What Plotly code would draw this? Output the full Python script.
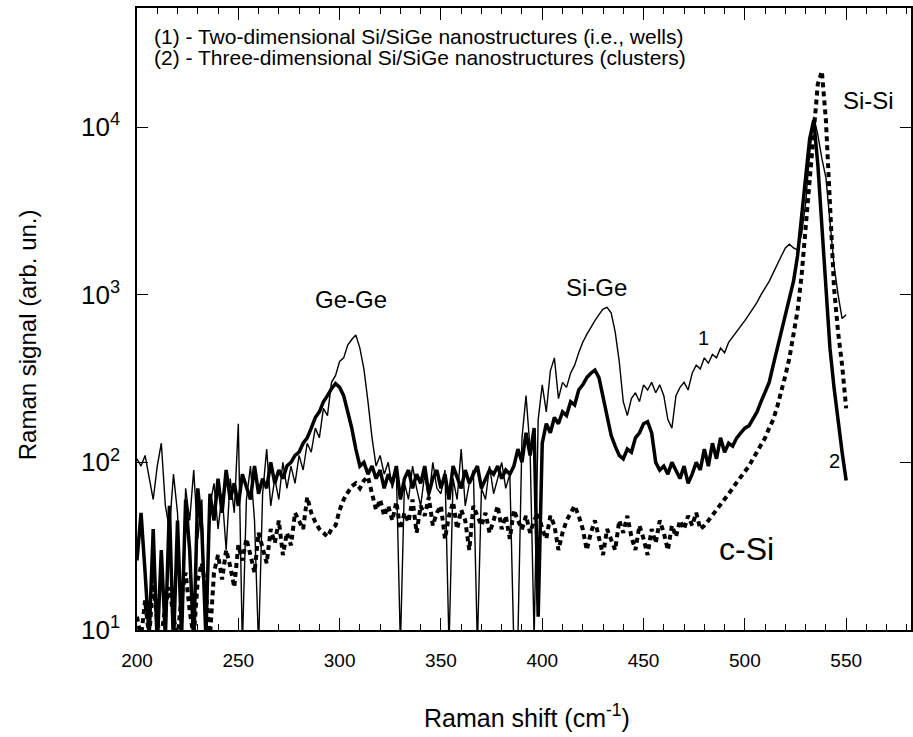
import plotly.graph_objects as go

# Raman shift grid (cm^-1), 2 cm^-1 step
shift = list(range(200, 551, 2))

# (1) two-dimensional Si/SiGe nanostructures (wells) - thin line
wells = [
    105, 95, 110, 80, 60, 95, 130, 55, 40, 85,
    50, 12, 70, 45, 90, 35, 60, 8, 55, 75,
    40, 65, 30, 80, 50, 170, 8, 60, 95, 45,
    8, 65, 120, 55, 80, 60, 100, 70, 95, 75,
    110, 90, 130, 115, 160, 140, 210, 190, 300, 330,
    400, 420, 500, 540, 575, 480, 360, 230, 140, 95,
    110, 85, 100, 70, 90, 8, 75, 60, 95, 70,
    55, 85, 60, 100, 70, 65, 90, 8, 80, 60,
    120, 55, 75, 90, 8, 70, 60, 95, 65, 80,
    100, 70, 85, 8, 9, 140, 250, 120, 9, 180,
    290, 200, 350, 420, 240, 300, 280, 340, 380, 450,
    520, 580, 640, 700, 760, 820, 840, 780, 600, 400,
    230, 190, 240, 260, 230, 290, 270, 300, 260, 290,
    250, 180, 160, 250, 280, 300, 270, 340, 380, 360,
    420, 390, 440, 420, 480, 450, 520, 560, 600, 640,
    700, 760, 820, 900, 1000, 1100, 1200, 1350, 1500, 1700,
    1900, 2000, 1900, 1850, 2300, 3500, 7000, 11500, 9000, 6500,
    5000, 2600, 1500, 1000, 720, 760,
]

# (2) three-dimensional Si/SiGe nanostructures (clusters) - bold line
clusters = [
    26, 50, 22, 9, 40, 8, 30, 9, 55, 8,
    45, 9, 60, 30, 8, 70, 40, 9, 65, 45,
    80, 50, 90, 60, 75, 55, 85, 70, 60, 95,
    65, 80, 70, 100, 75, 90, 80, 95, 100, 110,
    115, 130, 140, 160, 185, 200, 230, 250, 275, 295,
    280, 250, 200, 160, 120, 95, 100, 85, 95, 80,
    90, 70, 85, 75, 95, 60, 80, 90, 70, 85,
    75, 95, 65, 80, 90, 70, 85, 60, 95, 80,
    70, 90, 75, 85, 95, 70, 80, 90, 85, 95,
    80, 90, 85, 95, 120, 100, 150, 110, 160, 12,
    130, 170, 150, 185, 170, 200, 190, 230, 220, 270,
    290, 320, 340, 355, 320, 250, 190, 145, 125, 110,
    105, 120, 115, 140, 150, 170, 175, 150, 100, 90,
    95, 85, 100, 90, 80, 95, 75, 85, 100, 90,
    120, 95, 130, 105, 140, 115, 130, 125, 140, 150,
    160, 165, 180, 200, 230, 260, 300, 380, 480, 600,
    780, 950, 1200, 1700, 2800, 5000, 8500, 11000, 6000, 2500,
    1000, 480, 280, 170, 115, 78,
]

# bulk crystalline silicon reference - dashed line
c_si = [
    12, 9, 15, 9, 20, 11, 9, 14, 18, 12,
    9, 16, 22, 13, 9, 20, 25, 17, 9, 22,
    28, 20, 30, 24, 18, 32, 26, 35, 28, 22,
    38, 30, 25, 40, 33, 45, 28, 38, 32, 50,
    45, 40, 62, 50, 44, 40, 38, 36, 40, 42,
    52, 60, 66, 72, 75, 70, 78, 82, 65, 52,
    60, 48, 55, 45, 58, 40, 50, 44, 60, 38,
    55, 48, 62, 42, 50, 55, 35, 48, 58, 40,
    52, 45, 30, 55, 48, 42, 50, 38, 45, 55,
    40, 48, 35, 52, 45, 40, 48, 38, 45, 50,
    40, 35, 48, 42, 30, 38, 45, 50, 55, 48,
    40, 30, 38, 45, 35, 28, 40, 34, 30, 45,
    38, 48, 36, 30, 42, 35, 28, 40, 33, 45,
    38, 30, 42, 36, 45, 40, 48, 42, 50,
    40, 42, 45, 48, 52, 56, 60, 65, 70, 76,
    82, 88, 95, 105, 115, 128, 140, 160, 180, 215,
    260, 330, 420, 560, 800, 1300, 2500, 5000, 10000, 18000,
    21500, 11000, 3500, 1100, 600, 380, 210,
]

x_tick_vals = [200, 250, 300, 350, 400, 450, 500, 550]
x_tick_text = ["200", "250", "300", "350", "400", "450", "500", "550"]
y_tick_vals = [10, 100, 1000, 10000]
y_tick_text = ["10<sup>1</sup>", "10<sup>2</sup>", "10<sup>3</sup>", "10<sup>4</sup>"]

FONT = "Liberation Sans, Arial, sans-serif"

# plot box in pixels: left 137, right 913, top 8, bottom 630
L, R, T, B = 137, 913, 8, 630

fig = go.Figure()
fig.add_trace(go.Scatter(x=shift, y=c_si, mode="lines",
                         line=dict(color="black", width=4, dash="5px,4px")))
fig.add_trace(go.Scatter(x=shift, y=clusters, mode="lines",
                         line=dict(color="black", width=3.5)))
fig.add_trace(go.Scatter(x=shift, y=wells, mode="lines",
                         line=dict(color="black", width=1.4)))

fig.update_layout(
    width=913, height=737,
    margin=dict(l=L, r=913 - R, t=T, b=737 - B),
    plot_bgcolor="white", paper_bgcolor="white",
    showlegend=False,
    font=dict(family=FONT, color="black", size=18),
)

fig.update_xaxes(
    range=[200, 582], showgrid=False, zeroline=False,
    showline=True, linecolor="black", linewidth=1.5, mirror="ticks",
    ticks="inside", ticklen=12, tickwidth=1.3, tickcolor="black",
    tickvals=x_tick_vals, ticktext=x_tick_text,
    tickfont=dict(size=19, family=FONT), ticklabelstandoff=12,
    minor=dict(ticks="inside", ticklen=6, dtick=10, tick0=200,
               tickcolor="black", tickwidth=1),
)
fig.update_yaxes(
    type="log", range=[1, 4.71], showgrid=False, zeroline=False,
    showline=True, linecolor="black", linewidth=1.5, mirror="ticks",
    ticks="inside", ticklen=11, tickwidth=1.3, tickcolor="black",
    tickvals=y_tick_vals, ticktext=y_tick_text,
    tickfont=dict(size=26, family=FONT), ticklabelstandoff=10,
)


def px_x(px):
    return (px - L) / (R - L)


def px_y(py):
    return (B - py) / (B - T)


notes = [
    ("(1) - Two-dimensional Si/SiGe nanostructures (i.e., wells)", 152, 36, 21, "left"),
    ("(2) - Three-dimensional Si/SiGe nanostructures (clusters)", 152, 58, 21, "left"),
    ("Ge-Ge", 352, 299, 24, "center"),
    ("Si-Ge", 598, 287, 24, "center"),
    ("Si-Si", 870, 101, 24, "center"),
    ("1", 705, 338, 20, "center"),
    ("2", 836, 461, 20, "center"),
    ("c-Si", 748, 549, 32, "center"),
]
for text, px, py, size, anchor in notes:
    fig.add_annotation(
        text=text, xref="paper", yref="paper",
        x=px_x(px), y=px_y(py),
        xanchor=anchor, yanchor="middle", showarrow=False,
        font=dict(size=size, family=FONT, color="black"),
    )

# axis titles
fig.add_annotation(
    text="Raman shift (cm<sup>-1</sup>)", xref="paper", yref="paper",
    x=px_x(528), y=px_y(716), xanchor="center", yanchor="middle",
    showarrow=False, font=dict(size=25, family=FONT, color="black"),
)
fig.add_annotation(
    text="Raman signal (arb. un.)", xref="paper", yref="paper",
    x=px_x(27), y=px_y(335), xanchor="center", yanchor="middle",
    textangle=-90, showarrow=False,
    font=dict(size=24, family=FONT, color="black"),
)

fig.write_html("out.html")
